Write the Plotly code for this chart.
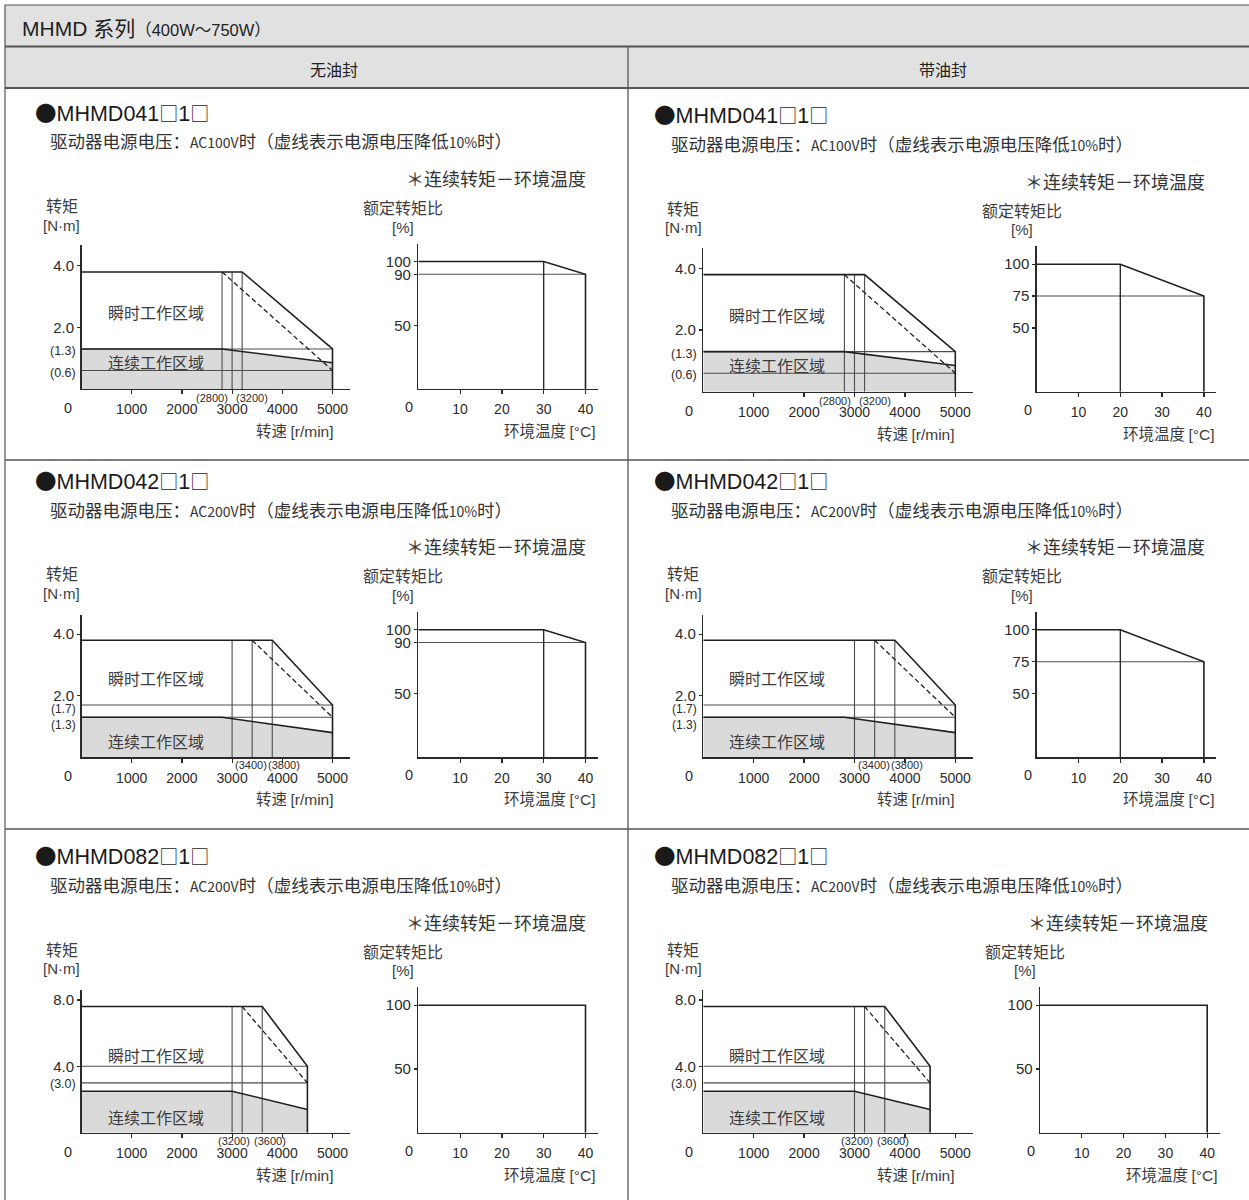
import plotly.graph_objects as go

W, H = 1249, 1200
LAT = "Liberation Sans, Arial, Noto Sans CJK SC, sans-serif"
CJK = "Noto Sans CJK SC, Liberation Sans, sans-serif"
INK = "#231f20"
THIN = "#4d4d4d"
AXC = "#2a2a2a"
TXT = "#2b2b2b"
LBL = "#3c3c3c"
FILL = "#dadada"
HDR = "#e1e1e1"
BORDER = "#555555"

# ---------------- data ----------------
speed_ticks = [1000, 2000, 3000, 4000, 5000]
temp_ticks = [10, 20, 30, 40]

series_title = "MHMD 系列"
series_range = "（400W～750W）"
column_titles = ["无油封", "带油封"]
models = ["MHMD041□1□", "MHMD042□1□", "MHMD082□1□"]
supply = ["AC100V", "AC200V", "AC200V"]

# MHMD041 (AC100V)
m041_peak_x = [0, 3200, 5000, 5000]
m041_peak_y = [3.8, 3.8, 1.3, 0]
m041_dash_x = [2800, 5000]
m041_dash_y = [3.8, 0.6]
m041_cont_x = [0, 2800, 5000]
m041_cont_y = [1.3, 1.3, 0.85]
m041_vlines = [2800, 3000, 3200]
m041_hlines = [1.3, 0.6]
m041_yticks = [2.0, 4.0]
m041_hline_labels = ["(1.3)", "(0.6)"]
m041_speed_labels = ["(2800)", "(3200)"]

# MHMD042 (AC200V)
m042_peak_x = [0, 3800, 5000, 5000]
m042_peak_y = [3.8, 3.8, 1.7, 0]
m042_dash_x = [3400, 5000]
m042_dash_y = [3.8, 1.3]
m042_cont_x = [0, 2800, 5000]
m042_cont_y = [1.3, 1.3, 0.8]
m042_vlines = [3000, 3400, 3800]
m042_hlines = [1.7, 1.3]
m042_yticks = [2.0, 4.0]
m042_hline_labels = ["(1.7)", "(1.3)"]
m042_speed_labels = ["(3400)", "(3800)"]

# MHMD082 (AC200V)
m082_peak_x = [0, 3600, 4500, 4500]
m082_peak_y = [7.6, 7.6, 4.0, 0]
m082_dash_x = [3200, 4500]
m082_dash_y = [7.6, 3.0]
m082_cont_x = [0, 3000, 4500]
m082_cont_y = [2.5, 2.5, 1.4]
m082_vlines = [3000, 3200, 3600]
m082_hlines = [4.0, 3.0]
m082_yticks = [4.0, 8.0]
m082_hline_labels = ["", "(3.0)"]
m082_speed_labels = ["(3200)", "(3600)"]

# rated torque ratio vs ambient temperature
tA_x = [0, 30, 40, 40]
tA_y = [100, 100, 90, 0]
tA_v = [30]
tA_h = [90]
tA_ticks = [50, 90, 100]

tB_x = [0, 20, 40, 40]
tB_y = [100, 100, 75, 0]
tB_v = [20]
tB_h = [75]
tB_ticks = [50, 75, 100]

tC_x = [0, 40, 40]
tC_y = [100, 100, 0]
tC_v = []
tC_h = []
tC_ticks = [50, 100]

torque_sets = [
    dict(px=m041_peak_x, py=m041_peak_y, dx=m041_dash_x, dy=m041_dash_y, cx=m041_cont_x, cy=m041_cont_y,
         v=m041_vlines, h=m041_hlines, yt=m041_yticks, hl=m041_hline_labels, sl=m041_speed_labels),
    dict(px=m042_peak_x, py=m042_peak_y, dx=m042_dash_x, dy=m042_dash_y, cx=m042_cont_x, cy=m042_cont_y,
         v=m042_vlines, h=m042_hlines, yt=m042_yticks, hl=m042_hline_labels, sl=m042_speed_labels),
    dict(px=m082_peak_x, py=m082_peak_y, dx=m082_dash_x, dy=m082_dash_y, cx=m082_cont_x, cy=m082_cont_y,
         v=m082_vlines, h=m082_hlines, yt=m082_yticks, hl=m082_hline_labels, sl=m082_speed_labels),
]
temp_sets = {
    "A": dict(x=tA_x, y=tA_y, v=tA_v, h=tA_h, yt=tA_ticks),
    "B": dict(x=tB_x, y=tB_y, v=tB_v, h=tB_h, yt=tB_ticks),
    "C": dict(x=tC_x, y=tC_y, v=tC_v, h=tC_h, yt=tC_ticks),
}
temp_choice = [["A", "B"], ["A", "B"], ["C", "C"]]

# ---------------- geometry (pixels) ----------------
ROW_Y0 = [[389.0, 391.7], [757.3, 757.3], [1132.7, 1132.7]]
TQ_X0 = [81.5, 703.3]
TQ_PPX = [0.0502, 0.0504]
TQ_PPY = [30.8, 30.8, 16.6]
TQ_YMAX = [4.68, 4.62, 8.6]
TQ_XMAX = 5350
TP_X0 = [[418.3, 1036.7], [418.3, 1036.7], [418.3, 1040.0]]
TP_PPX = 4.18
TP_PPY = 1.275
TP_XMAX = 43
TP_YMAX = 114
TITLE_X = [33, 652]
SUB_X = [48, 669]
HL_SHIFT = [[-2, -2], [-4, -8], [0, -1]]
IN_LBL_DY = [[77, 27], [79, 16], [78, 16]]
SPEED_LBL_DY = [-9, -8, -8]


def fx(p):
    return p / W


def fy(p):
    return 1 - p / H


def cjk(s, size=None):
    st = "font-family:Noto Sans CJK SC"
    if size:
        st += ";font-size:%spx" % size
    return '<span style="' + st + '">' + s + "</span>"


fig = go.Figure()
layout_axes = {}
annotations = []
shapes = []
counter = [0]


def new_axes(x0, y0, ppx, ppy, xmax, ymax, xticks, yticks, ytext):
    counter[0] += 1
    k = counter[0]
    sx = "" if k == 1 else str(k)
    common = dict(showline=True, linecolor=AXC, linewidth=1.4, showgrid=False, zeroline=False,
                  ticks="outside", tickcolor=AXC, tickwidth=1.2, fixedrange=True)
    layout_axes["xaxis" + sx] = dict(common, domain=[fx(x0), fx(x0 + xmax * ppx)], range=[0, xmax],
                                     anchor="y" + sx, tickvals=xticks, ticktext=[str(t) for t in xticks],
                                     ticklen=4, ticklabelstandoff=3,
                                     tickfont=dict(family=LAT, size=14, color=TXT))
    layout_axes["yaxis" + sx] = dict(common, domain=[fy(y0), fy(y0 - ymax * ppy)], range=[0, ymax],
                                     anchor="x" + sx, tickvals=yticks, ticktext=ytext, ticklen=3,
                                     tickfont=dict(family=LAT, size=15, color=TXT))
    return "x" + sx, "y" + sx


def line(xr, yr, xs, ys, color=INK, width=1.5, dash=None):
    fig.add_trace(go.Scatter(x=xs, y=ys, xaxis=xr, yaxis=yr, mode="lines", hoverinfo="skip",
                             line=dict(color=color, width=width, dash=dash), showlegend=False))


def text_px(x, y, s, size, anchor="center", color=LBL, family=CJK):
    annotations.append(dict(x=fx(x), y=fy(y), xref="paper", yref="paper", text=s, showarrow=False,
                            xanchor=anchor, yanchor="middle", font=dict(family=family, size=size, color=color)))


def text_data(xr, yr, x, y, s, size, anchor="center", xshift=0, yshift=0, color=TXT, family=LAT):
    annotations.append(dict(x=x, y=y, xref=xr, yref=yr, text=s, showarrow=False, xanchor=anchor,
                            yanchor="middle", xshift=xshift, yshift=yshift,
                            font=dict(family=family, size=size, color=color)))


# ---------------- frame / header ----------------
shapes.append(dict(type="rect", xref="paper", yref="paper", x0=fx(5), x1=fx(W), y0=fy(5), y1=fy(88),
                   fillcolor=HDR, line=dict(width=0), layer="below"))
for yy, w in [(5, 1.2), (46.5, 2.2), (88, 2)]:
    shapes.append(dict(type="line", xref="paper", yref="paper", x0=fx(5), x1=fx(W), y0=fy(yy), y1=fy(yy),
                       line=dict(color=BORDER, width=w)))
for yy in [460, 829]:
    shapes.append(dict(type="line", xref="paper", yref="paper", x0=fx(5), x1=fx(W), y0=fy(yy), y1=fy(yy),
                       line=dict(color=BORDER, width=1.3)))
shapes.append(dict(type="line", xref="paper", yref="paper", x0=fx(5), x1=fx(5), y0=fy(5), y1=fy(H),
                   line=dict(color=BORDER, width=1.2)))
shapes.append(dict(type="line", xref="paper", yref="paper", x0=fx(628), x1=fx(628), y0=fy(47), y1=fy(H),
                   line=dict(color=BORDER, width=1.3)))

text_px(20, 27, series_title.replace("系列", cjk("系列")) + '<span style="font-size:16.5px">' + series_range + "</span>",
        21, anchor="left", color="#222", family=LAT)
text_px(334, 69, column_titles[0], 16, color="#222")
text_px(943, 69, column_titles[1], 16, color="#222")

# ---------------- panels ----------------
for r in range(3):
    ts = torque_sets[r]
    for c in range(2):
        y0 = ROW_Y0[r][c]
        tqx0 = TQ_X0[c]
        tpx0 = TP_X0[r][c]

        # headings
        title = cjk("●") + models[r].replace("□", cjk("□", 19))
        text_px(TITLE_X[c], y0 - 278, title, 21.5, anchor="left", color="#1a1a1a", family=LAT)
        text_px(SUB_X[c], y0 - 248,
                '驱动器电源电压：<span style="font-size:14px">' + supply[r] + '</span>时（虚线表示电源电压降低'
                '<span style="font-size:14px">10%</span>时）', 17.5, anchor="left", color="#333")
        text_px(tpx0 + 170, y0 - 211, "＊连续转矩－环境温度", 18, anchor="right", color="#333")

        # ---- torque chart ----
        yt = ts["yt"]
        xr, yr = new_axes(tqx0, y0, TQ_PPX[c], TQ_PPY[r], TQ_XMAX, TQ_YMAX[r], speed_ticks, yt,
                          ["%.1f" % v for v in yt])
        xend = ts["px"][-1]
        ytop = ts["py"][0]
        fig.add_trace(go.Scatter(x=ts["cx"], y=ts["cy"], xaxis=xr, yaxis=yr, mode="lines", fill="tozeroy",
                                 fillcolor=FILL, line=dict(width=0, color=FILL), hoverinfo="skip",
                                 showlegend=False))
        for hv in ts["h"]:
            line(xr, yr, [0, xend], [hv, hv], color=THIN, width=1.1)
        for vv in ts["v"]:
            line(xr, yr, [vv, vv], [0, ytop], color=THIN, width=1.1)
        line(xr, yr, ts["cx"], ts["cy"], width=1.6)
        line(xr, yr, ts["px"], ts["py"], width=1.6)
        line(xr, yr, ts["dx"], ts["dy"], width=1.3, dash="5px,3px")

        for lab, hv, sh in zip(ts["hl"], ts["h"], HL_SHIFT[r]):
            if lab:
                text_data(xr, yr, 0, hv, lab, 12 if r == 1 else 12.5, anchor="right", xshift=-4, yshift=sh)
        # speed labels near vertical lines
        vl = ts["v"]
        sdy = SPEED_LBL_DY[r]
        if r == 0:
            text_data(xr, yr, vl[1], 0, ts["sl"][0], 11, anchor="right", xshift=-2, yshift=sdy)
            text_data(xr, yr, vl[1], 0, ts["sl"][1], 11, anchor="left", xshift=2, yshift=sdy)
        elif r == 1:
            text_data(xr, yr, vl[0], 0, ts["sl"][0], 11, anchor="left", xshift=1, yshift=sdy)
            text_data(xr, yr, vl[2], 0, ts["sl"][1], 11, anchor="left", xshift=-6, yshift=sdy)
        else:
            text_data(xr, yr, vl[2], 0, ts["sl"][0], 11, anchor="right", xshift=-10, yshift=sdy)
            text_data(xr, yr, vl[2], 0, ts["sl"][1], 11, anchor="left", xshift=-10, yshift=sdy)
        # origin
        text_data(xr, yr, 0, 0, "0", 14.5, anchor="center", xshift=-14, yshift=-19)

        text_px(tqx0 + 74, y0 - IN_LBL_DY[r][0], "瞬时工作区域", 16)
        text_px(tqx0 + 74, y0 - IN_LBL_DY[r][1], "连续工作区域", 16)
        text_px(tqx0 - 20, y0 - 184, "转矩", 16)
        text_px(tqx0 - 20, y0 - 164, "[N·m]", 15, family=LAT)
        text_px(tqx0 + 254, y0 + 41, "转速 <span style='font-family:Liberation Sans'>[r/min]</span>", 15.5,
                anchor="right")

        # ---- temperature chart ----
        tp = temp_sets[temp_choice[r][c]]
        xr2, yr2 = new_axes(tpx0, y0, TP_PPX, TP_PPY, TP_XMAX, TP_YMAX, temp_ticks, tp["yt"],
                            [str(v) for v in tp["yt"]])
        for hv in tp["h"]:
            line(xr2, yr2, [0, tp["x"][-1]], [hv, hv], color=THIN, width=1.1)
        for vv in tp["v"]:
            line(xr2, yr2, [vv, vv], [0, tp["y"][0]], color=INK, width=1.3)
        line(xr2, yr2, tp["x"], tp["y"], width=1.6)
        text_data(xr2, yr2, 0, 0, "0", 14.5, anchor="center", xshift=-9, yshift=-18)
        text_px(tpx0 - 15, y0 - 182, "额定转矩比", 16)
        text_px(tpx0 - 15, y0 - 162, "[%]", 15, family=LAT)
        text_px(tpx0 + 180, y0 + 41, "环境温度 <span style='font-family:Liberation Sans'>[°C]</span>", 15.5,
                anchor="right")

fig.update_layout(width=W, height=H, autosize=False, margin=dict(l=0, r=0, t=0, b=0, pad=0),
                  paper_bgcolor="white", plot_bgcolor="rgba(0,0,0,0)", showlegend=False,
                  annotations=annotations, shapes=shapes, **layout_axes)

fig.write_html("out.html", config={"displayModeBar": False, "staticPlot": True},
               post_script="document.body.style.margin='0';document.body.style.overflow='hidden';")
